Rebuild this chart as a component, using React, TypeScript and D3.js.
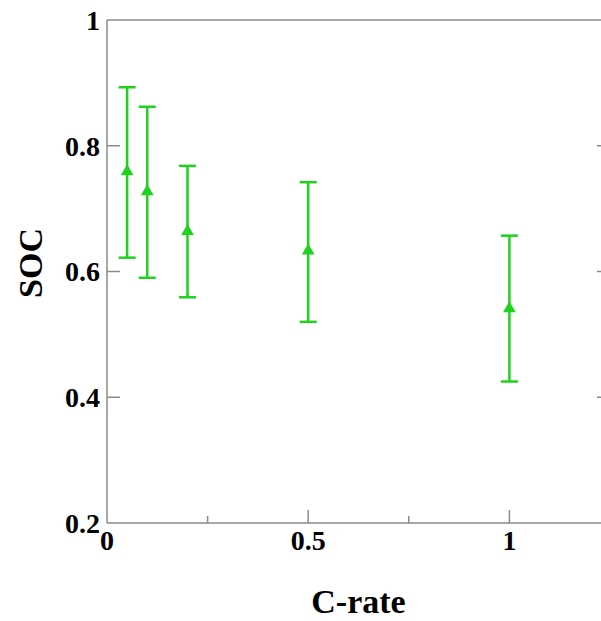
import React from "react";
import * as d3 from "d3";

const cRate = [0.05, 0.1, 0.2, 0.5, 1];
const socMean = [0.759, 0.727, 0.664, 0.633, 0.541];
const socUpper = [0.893, 0.862, 0.768, 0.742, 0.657];
const socLower = [0.622, 0.59, 0.559, 0.52, 0.425];
const xMajorTicks = [0, 0.5, 1];
const xMinorTicks = [0.25, 0.75];
const yTicks = [0.2, 0.4, 0.6, 0.8, 1];

const W = 601;
const H = 621;
const M = { left: 107, top: 20, right: 610, bottom: 523 };
const GREEN = "#1ed21e";
const AXIS = "#8a8a8a";
const FONT = "'Liberation Serif', 'Times New Roman', serif";

export default function App() {
  const x = d3.scaleLinear().domain([0, 1.25]).range([M.left, M.right]);
  const y = d3.scaleLinear().domain([0.2, 1]).range([M.bottom, M.top]);
  const tri = d3.symbol().type(d3.symbolTriangle).size(70)();
  const fmt = (v: number) => (v === 0 || v === 1 ? String(v) : String(v));

  return (
    <svg
      width={W}
      height={H}
      style={{ position: "absolute", left: 0, top: 0, background: "#fff" }}
    >
      {/* frame */}
      <line x1={M.left} x2={M.right} y1={M.top} y2={M.top} stroke={AXIS} strokeWidth={1.5} />
      <line x1={M.left} x2={M.right} y1={M.bottom} y2={M.bottom} stroke={AXIS} strokeWidth={1.5} />
      <line x1={M.left} x2={M.left} y1={M.top} y2={M.bottom} stroke={AXIS} strokeWidth={1.5} />
      <line x1={M.right} x2={M.right} y1={M.top} y2={M.bottom} stroke={AXIS} strokeWidth={1.5} />

      {/* y ticks */}
      {yTicks.map((t) => (
        <g key={"y" + t}>
          {t > 0.2 && t < 1 && (
            <>
              <line x1={M.left} x2={M.left + 13} y1={y(t)} y2={y(t)} stroke={AXIS} strokeWidth={1.5} />
              <line x1={M.right} x2={M.right - 13} y1={y(t)} y2={y(t)} stroke={AXIS} strokeWidth={1.5} />
            </>
          )}
          <text
            x={M.left - 7}
            y={y(t)}
            dy="0.35em"
            textAnchor="end"
            fontFamily={FONT}
            fontWeight="bold"
            fontSize={28}
            fill="#000"
          >
            {fmt(t)}
          </text>
        </g>
      ))}

      {/* x ticks */}
      {xMajorTicks.map((t) => (
        <g key={"x" + t}>
          {t > 0 && (
            <line x1={x(t)} x2={x(t)} y1={M.bottom} y2={M.bottom - 13} stroke={AXIS} strokeWidth={1.5} />
          )}
          <text
            x={x(t)}
            y={M.bottom + 27}
            textAnchor="middle"
            fontFamily={FONT}
            fontWeight="bold"
            fontSize={28}
            fill="#000"
          >
            {fmt(t)}
          </text>
        </g>
      ))}
      {xMinorTicks.map((t) => (
        <line key={"xm" + t} x1={x(t)} x2={x(t)} y1={M.bottom} y2={M.bottom - 7} stroke={AXIS} strokeWidth={1.5} />
      ))}

      {/* error bars */}
      {cRate.map((c, i) => (
        <g key={"e" + i} stroke={GREEN} strokeWidth={2.5}>
          <line x1={x(c)} x2={x(c)} y1={y(socUpper[i])} y2={y(socLower[i])} />
          <line x1={x(c) - 8.5} x2={x(c) + 8.5} y1={y(socUpper[i])} y2={y(socUpper[i])} />
          <line x1={x(c) - 8.5} x2={x(c) + 8.5} y1={y(socLower[i])} y2={y(socLower[i])} />
        </g>
      ))}
      {cRate.map((c, i) => (
        <path key={"m" + i} d={tri || ""} transform={`translate(${x(c)},${y(socMean[i])})`} fill={GREEN} />
      ))}

      {/* axis titles */}
      <text
        x={(M.left + M.right) / 2}
        y={613}
        textAnchor="middle"
        fontFamily={FONT}
        fontWeight="bold"
        fontSize={34}
        fill="#000"
      >
        C-rate
      </text>
      <text
        transform={`translate(42,263) rotate(-90)`}
        textAnchor="middle"
        fontFamily={FONT}
        fontWeight="bold"
        fontSize={34}
        fill="#000"
      >
        SOC
      </text>
    </svg>
  );
}
